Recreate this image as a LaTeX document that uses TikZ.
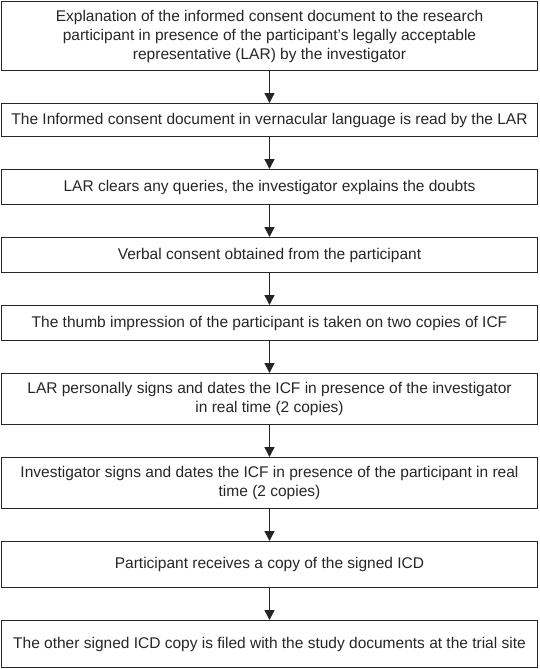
\documentclass[tikz,border=0pt]{standalone}
\usepackage{fontspec}
\setmainfont{Liberation Sans}
\usetikzlibrary{positioning,arrows.meta}
\begin{document}
\begin{tikzpicture}[x=1pt, y=1pt, node distance=32pt,
	stepbox/.style={rectangle, draw=black!85, line width=1.4pt, minimum width=536pt, align=center, text=black!85, font=\fontsize{15.5}{19}\selectfont},
	>={Triangle[width=10pt, length=10pt]}]
	\useasboundingbox (0, 0) rectangle (540, -669);

	\node[stepbox, minimum height=68.6pt] (explain) at (269.5, -36) {Explanation of the informed consent document to the research\\participant in presence of the participant’s legally acceptable\\representative (LAR) by the investigator};
	\node[stepbox, minimum height=32.6pt, below=of explain] (read-lar) {The Informed consent document in vernacular language is read by the LAR};
	\node[stepbox, minimum height=34.6pt, below=of read-lar] (queries) {LAR clears any queries, the investigator explains the doubts};
	\node[stepbox, minimum height=34.6pt, below=of queries] (verbal) {Verbal consent obtained from the participant};
	\node[stepbox, minimum height=34.6pt, below=of verbal] (thumb) {The thumb impression of the participant is taken on two copies of ICF};
	\node[stepbox, minimum height=50.6pt, below=of thumb] (lar-signs) {LAR personally signs and dates the ICF in presence of the investigator\\in real time (2 copies)};
	\node[stepbox, minimum height=50.6pt, below=of lar-signs] (inv-signs) {Investigator signs and dates the ICF in presence of the participant in real\\time (2 copies)};
	\node[stepbox, minimum height=45.6pt, below=of inv-signs] (copy) {Participant receives a copy of the signed ICD};
	\node[stepbox, minimum height=46.6pt, below=of copy] (filed) {The other signed ICD copy is filed with the study documents at the trial site};

	\draw[->, line width=1.4pt, black!85] (explain) -- (read-lar);
	\draw[->, line width=1.4pt, black!85] (read-lar) -- (queries);
	\draw[->, line width=1.4pt, black!85] (queries) -- (verbal);
	\draw[->, line width=1.4pt, black!85] (verbal) -- (thumb);
	\draw[->, line width=1.4pt, black!85] (thumb) -- (lar-signs);
	\draw[->, line width=1.4pt, black!85] (lar-signs) -- (inv-signs);
	\draw[->, line width=1.4pt, black!85] (inv-signs) -- (copy);
	\draw[->, line width=1.4pt, black!85] (copy) -- (filed);
\end{tikzpicture}
\end{document}
